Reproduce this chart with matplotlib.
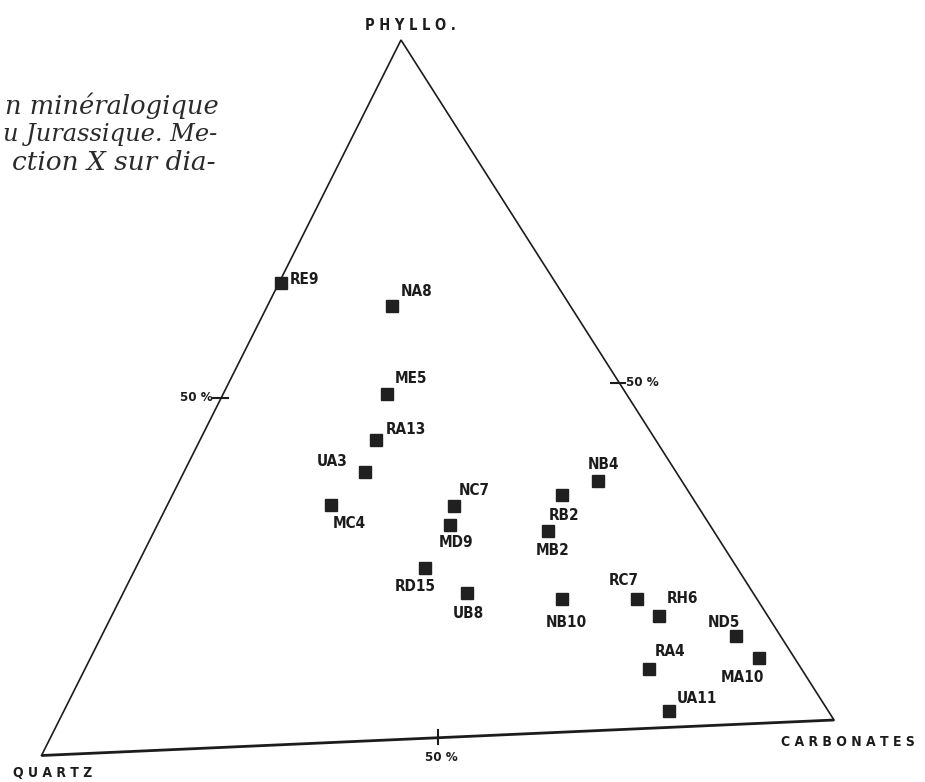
import numpy as np
import matplotlib
matplotlib.use("Agg")
import matplotlib.pyplot as plt

# ternary composition (%)
samples = ["RE9", "NA8", "ME5", "RA13", "UA3", "MC4", "NC7", "MD9", "RD15", "UB8",
           "RB2", "NB4", "MB2", "NB10", "RC7", "RH6", "ND5", "MA10", "RA4", "UA11"]
phyllo = [66.0, 62.0, 49.5, 43.0, 38.5, 34.0, 33.0, 30.4, 24.4, 20.5,
          33.9, 35.7, 28.9, 19.0, 18.6, 16.0, 12.6, 9.4, 8.5, 2.4]
carbonates = [0.3, 16.1, 21.1, 22.7, 23.3, 21.1, 37.1, 37.8, 37.3, 44.4,
              50.3, 54.0, 50.8, 57.1, 66.7, 70.7, 81.9, 86.3, 72.8, 78.1]
quartz = [100 - p - c for p, c in zip(phyllo, carbonates)]

caption = ["n minéralogique", "u Jurassique. Me-", "ction X sur dia-"]

# label offsets in pixels (left edge, vertical centre)
label_off = [(9, 4), (9, 15), (8, 15), (10, 10), (-48, 10), (2, -19), (5, 16),
             (-12, -18), (-30, -19), (-14, -20), (-13, -20), (-10, 16), (-12, -20),
             (-17, -23), (-28, 18), (7, 17), (-28, 14), (-38, -20), (6, 17), (8, 12)]

W, H = 925, 782
# triangle corners on the page (pixel coords, slightly tilted scan)
Q = np.array([41.5, 755.5])
C = np.array([834.0, 720.0])
P = np.array([401.0, 40.0])


def tern(q, c, p):
    q, c, p = np.asarray(q) / 100, np.asarray(c) / 100, np.asarray(p) / 100
    xy = np.outer(q, Q) + np.outer(c, C) + np.outer(p, P)
    return xy[:, 0], xy[:, 1]


fig = plt.figure(figsize=(W / 100, H / 100), dpi=100)
ax = fig.add_axes((0, 0, 1, 1))
ax.set_xlim(0, W)
ax.set_ylim(H, 0)
ax.axis("off")

ink = "#1c1c1c"
lab_font = dict(family=["DejaVu Sans"], stretch="condensed", weight="bold",
                color=ink)

# triangle
ax.plot([Q[0], P[0], C[0]], [Q[1], P[1], C[1]], color=ink, lw=1.2,
        solid_joinstyle="miter")
ax.plot([Q[0], C[0]], [Q[1], C[1]], color=ink, lw=2.0, solid_capstyle="butt")

# 50 % ticks
mx, my = tern([50], [0], [50])
ax.plot([mx[0] - 8, mx[0] + 7], [my[0], my[0]], color=ink, lw=1.5)
ax.text(mx[0] - 9, my[0], "50 %", ha="right", va="center", fontsize=9.5, **lab_font)
mx, my = tern([0], [50], [50])
ax.plot([mx[0] - 7, mx[0] + 7], [my[0] + 3, my[0] + 3], color=ink, lw=1.5)
ax.text(mx[0] + 8, my[0] + 3, "50 %", ha="left", va="center", fontsize=9.5, **lab_font)
mx, my = tern([50], [50], [0])
ax.plot([mx[0], mx[0]], [my[0] - 8, my[0] + 6], color=ink, lw=1.5)
ax.text(mx[0] + 4, my[0] + 20, "50 %", ha="center", va="center", fontsize=9.5, **lab_font)

# corner names
ax.text(P[0] + 9, 25, "P H Y L L O .", ha="center", va="center", fontsize=10.5, **lab_font)
ax.text(53, 773, "Q U A R T Z", ha="center", va="center", fontsize=10, **lab_font)
ax.text(848, 742, "C A R B O N A T E S", ha="center", va="center", fontsize=10,
        **lab_font)

# samples
x, y = tern(quartz, carbonates, phyllo)
ax.plot(x, y, ls="none", marker="s", ms=8.3, color="#202020", mec="#202020")
for name, xi, yi, off in zip(samples, x, y, label_off):
    ax.annotate(name, (xi, yi), xytext=off, textcoords="offset pixels",
                ha="left", va="center", fontsize=11, **lab_font)

# handwritten caption (continues beyond the left edge in the original scan)
for i, (line, fs) in enumerate(zip(caption, [18.5, 17.4, 19.0])):
    ax.text(219 - i * 2, 106 + i * 28.5, line, ha="right", va="center",
            fontsize=fs, family=["DejaVu Serif"], style="italic", color="#2a2a2a")

fig.savefig("out.png", dpi=100)
